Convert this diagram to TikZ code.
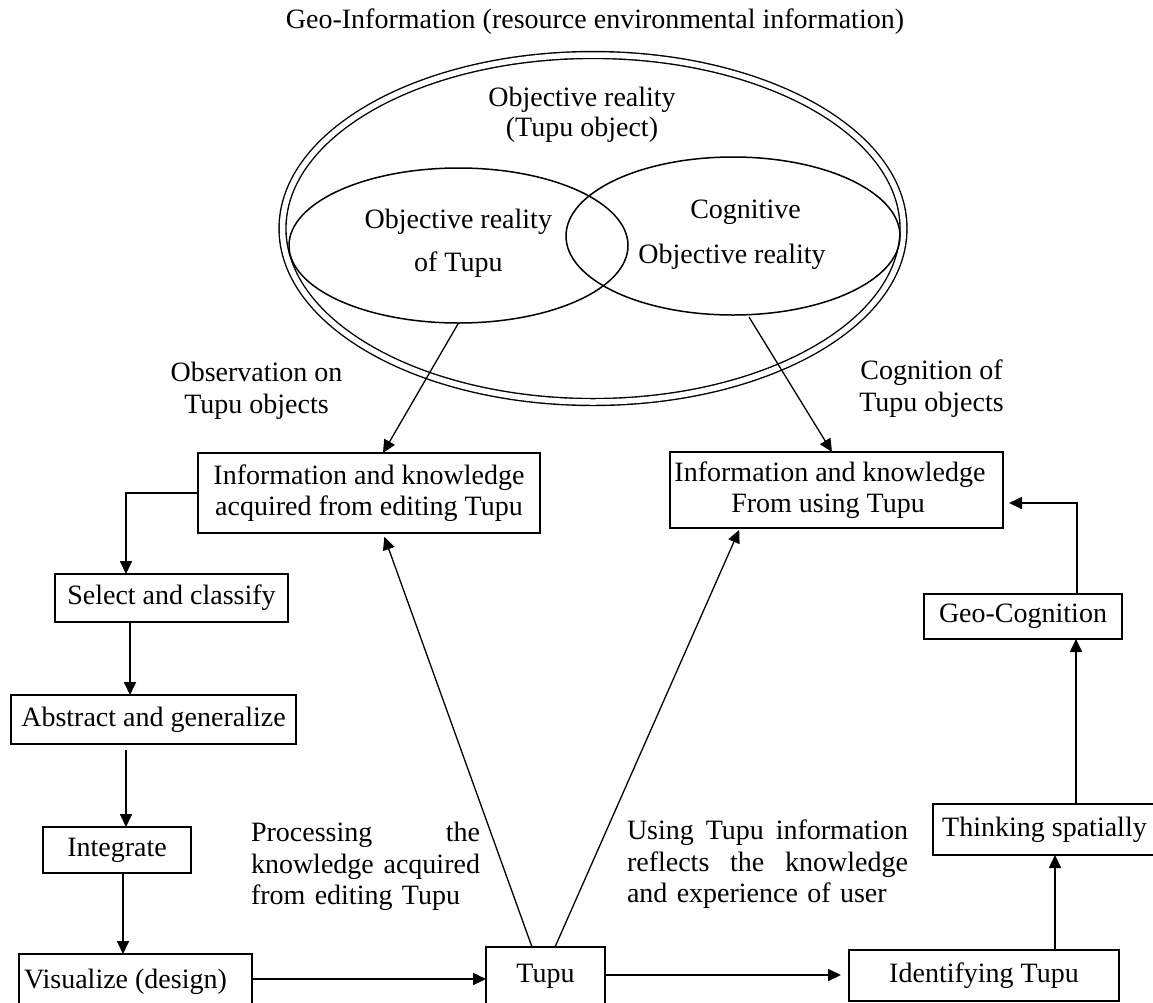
\documentclass[tikz,border=0pt]{standalone}
\usepackage{fontspec}
\setmainfont{Liberation Serif}
\usetikzlibrary{arrows.meta,shapes.geometric}
\begin{document}
\begin{tikzpicture}[x=1pt,y=-1pt,
  every node/.style={font=\fontsize{28}{31.5}\selectfont, inner sep=0pt, outer sep=0pt},
  boxn/.style={draw, line width=1.8pt, align=center},
  arr/.style={line width=1.7pt, -{Triangle[length=13pt,width=12pt]}},
  diag/.style={line width=1.3pt, -{Triangle[length=13pt,width=12pt]}},
  ring/.style={draw, ellipse, line width=1.5pt}
]
\useasboundingbox (0,0) rectangle (1153,1002);
\clip (0,0) rectangle (1153,1002);

% title
\node (title) at (595,22) {Geo-Information (resource environmental information)};

% ellipses
\node[ring, double, double distance=5.5pt, line width=1.4pt, minimum width=621pt, minimum height=347pt] (outer) at (593,228.5) {};
\node[ring, minimum width=339pt, minimum height=155pt] (ellL) at (458.5,245.5) {};
\node[ring, minimum width=334pt, minimum height=158pt] (ellR) at (733,236) {};

\node[align=center, font=\fontsize{28}{30}\selectfont] (objr) at (582,115) {Objective reality\\(Tupu object)};
\node[align=center, font=\fontsize{28}{43}\selectfont] (ellLtext) at (458.3,243.5) {Objective reality\\of Tupu};
\node (cogn) at (745.5,212) {Cognitive};
\node (objr2) at (732,257) {Objective reality};

% side labels
\node[align=center, font=\fontsize{28}{32}\selectfont] (obs) at (256.5,391) {Observation on\\Tupu objects};
\node[align=center, font=\fontsize{28}{32}\selectfont] (cog) at (931.5,389) {Cognition of\\Tupu objects};
\node[align=left, text width=229pt] (proc) at (365.5,866.5) {Processing\hfill the\\knowledge\hfill acquired\\from editing Tupu};
\node[align=left, text width=281pt] (using) at (767.5,864.5) {Using\hfill Tupu\hfill information\\reflects\hfill the\hfill knowledge\\and experience of user};

% boxes
\node[boxn, minimum width=342pt, minimum height=80pt] (iedit) at (369,493) {Information and knowledge\\acquired from editing Tupu};
\node[boxn, minimum width=333pt, minimum height=76pt] (iuse) at (836.5,490) {Information and knowledge\hspace*{13pt}\\From using Tupu\hspace*{17pt}};
\node[boxn, minimum width=233pt, minimum height=48pt] (select) at (171.5,598) {Select and classify};
\node[boxn, minimum width=285pt, minimum height=49pt] (abstract) at (153.5,719.5) {Abstract and generalize};
\node[boxn, minimum width=148pt, minimum height=46pt] (integrate) at (117,850) {Integrate};
\node[boxn, minimum width=233pt, minimum height=56pt] (visual) at (135.5,982) {Visualize (design)\hspace*{20pt}};
\node[boxn, minimum width=119pt, minimum height=58pt] (tupu) at (545.5,976) {Tupu};
\node[boxn, minimum width=270pt, minimum height=51pt] (ident) at (984,975.5) {Identifying Tupu};
\node[boxn, minimum width=229pt, minimum height=51pt] (think) at (1047.5,829.5) {Thinking spatially\hspace*{6pt}};
\node[boxn, minimum width=198pt, minimum height=45pt] (geocog) at (1023,616.5) {Geo-Cognition};

% connectors
\coordinate (sR) at (749,317);
\draw[diag] (ellL.south) -- ([xshift=14pt]iedit.north);
\draw[diag] (sR) -- ([xshift=-4.5pt]iuse.north);
\draw[arr] (iedit.west) -| ([xshift=-45.5pt]select.north);
\draw[arr] ([xshift=-41.5pt]select.south) -- ([xshift=-23.5pt]abstract.north);
\draw[arr] ([xshift=-27.5pt,yshift=-6pt]abstract.south) -- ([xshift=9pt]integrate.north);
\draw[arr] ([xshift=6pt]integrate.south) -- ([xshift=-12.5pt]visual.north);
\draw[arr] ([yshift=3pt]visual.east) -- ([yshift=-3pt]tupu.west);
\draw[arr, shorten >=8pt] ([yshift=1pt]tupu.east) -- ([yshift=0.5pt]ident.west);
\draw[arr] ([xshift=71pt]ident.north) -- ([xshift=7.5pt]think.south);
\draw[arr] ([xshift=28.5pt]think.north) -- ([xshift=53pt]geocog.south);
\draw[arr, shorten >=6pt] ([xshift=54pt]geocog.north) |- ([yshift=-13pt]iuse.east);
\draw[diag, shorten >=4pt] ([xshift=-13.5pt]tupu.north) -- ([xshift=14pt]iedit.south);
\draw[diag, shorten >=2pt] ([xshift=9.5pt]tupu.north) -- ([xshift=-96.5pt]iuse.south);
\end{tikzpicture}
\end{document}
